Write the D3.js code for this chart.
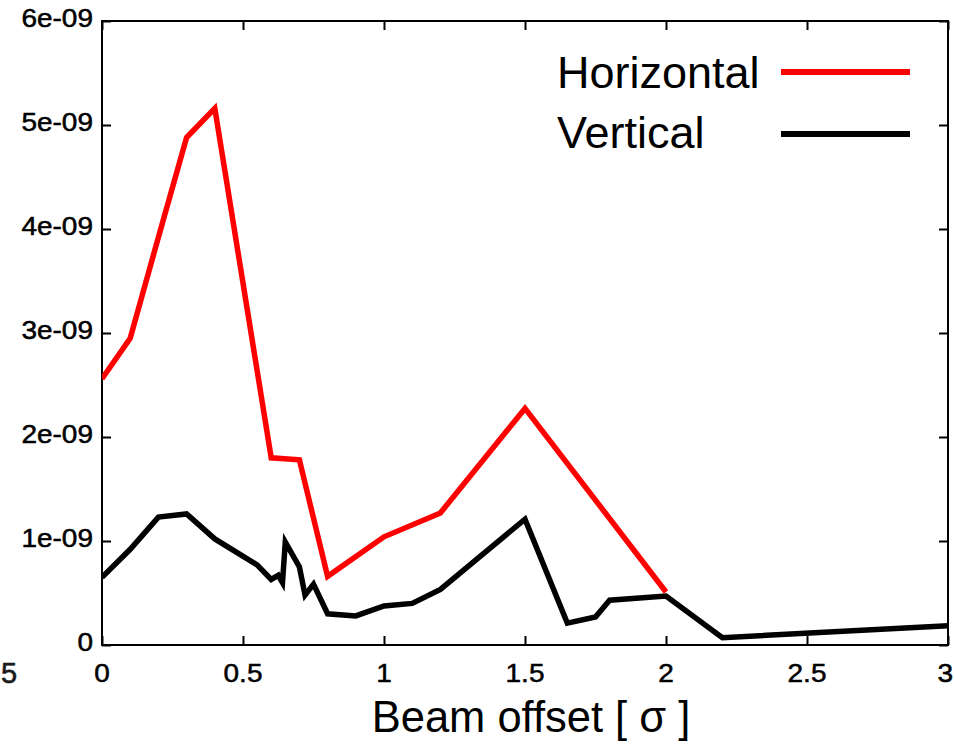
<!DOCTYPE html>
<html>
<head>
<meta charset="utf-8">
<script src="https://cdn.jsdelivr.net/npm/d3@7"></script>
<style>
  html, body { margin: 0; padding: 0; background: #fff; }
  svg { display: block; }
  text { font-family: "Liberation Sans", Arial, Helvetica, sans-serif; fill: #000; }
</style>
</head>
<body>
<svg id="chart" width="954" height="745"></svg>
<script>
// ---- data ----
const horizX = [0, 0.1, 0.2, 0.3, 0.4, 0.6, 0.7, 0.8, 1.0, 1.2, 1.5, 2.0];
const horizY = [2.56e-9, 2.95e-9, 3.92e-9, 4.88e-9, 5.16e-9, 1.80e-9, 1.78e-9, 0.66e-9, 1.04e-9, 1.27e-9, 2.275e-9, 0.51e-9];

const vertX = [0, 0.1, 0.2, 0.3, 0.4, 0.55, 0.6, 0.625, 0.64, 0.65, 0.7, 0.72, 0.75, 0.8, 0.9, 1.0, 1.1, 1.2, 1.5, 1.65, 1.75, 1.8, 2.0, 2.2, 3.0];
const vertY = [0.65e-9, 0.92e-9, 1.23e-9, 1.26e-9, 1.02e-9, 0.77e-9, 0.63e-9, 0.67e-9, 0.60e-9, 0.99e-9, 0.75e-9, 0.48e-9, 0.585e-9, 0.30e-9, 0.28e-9, 0.375e-9, 0.40e-9, 0.535e-9, 1.21e-9, 0.21e-9, 0.27e-9, 0.43e-9, 0.47e-9, 0.07e-9, 0.185e-9];

const xTicks = [0, 0.5, 1, 1.5, 2, 2.5, 3];
const xTickLabels = ["0", "0.5", "1", "1.5", "2", "2.5", "3"];
const yTicks = [0, 1e-9, 2e-9, 3e-9, 4e-9, 5e-9, 6e-9];
const yTickLabels = ["0", "1e-09", "2e-09", "3e-09", "4e-09", "5e-09", "6e-09"];

const seriesNames = ["Horizontal", "Vertical"];
const seriesColors = ["#ff0000", "#000000"];
const xTitle = "Beam offset [ \u03c3 ]";

// ---- layout ----
const plotL = 102, plotR = 948, plotT = 21, plotB = 645;
const svg = d3.select("#chart");
const x = d3.scaleLinear().domain([0, 3]).range([plotL, plotR]);
const y = d3.scaleLinear().domain([0, 6e-9]).range([plotB, plotT]);

const labelFont = "25px";
const stretch = 1.12;

// frame
svg.append("rect")
  .attr("x", plotL).attr("y", plotT)
  .attr("width", plotR - plotL).attr("height", plotB - plotT)
  .attr("fill", "none").attr("stroke", "#000").attr("stroke-width", 2);

// axes with inward ticks (mirrored)
const tickLen = 9;
const gB = svg.append("g").attr("transform", `translate(0,${plotB})`)
  .call(d3.axisBottom(x).tickValues(xTicks).tickSize(-tickLen).tickFormat(""));
const gT = svg.append("g").attr("transform", `translate(0,${plotT})`)
  .call(d3.axisTop(x).tickValues(xTicks).tickSize(-tickLen).tickFormat(""));
const gL = svg.append("g").attr("transform", `translate(${plotL},0)`)
  .call(d3.axisLeft(y).tickValues(yTicks).tickSize(-tickLen).tickFormat(""));
const gR = svg.append("g").attr("transform", `translate(${plotR},0)`)
  .call(d3.axisRight(y).tickValues(yTicks).tickSize(-tickLen).tickFormat(""));
[gB, gT, gL, gR].forEach(g => {
  g.select(".domain").remove();
  g.selectAll(".tick line").attr("stroke", "#000").attr("stroke-width", 2);
});

// x tick labels (last one kept inside the page edge)
svg.append("g").selectAll("text").data(xTicks).join("text")
  .attr("transform", (d, i) => i === xTicks.length - 1
      ? `translate(953,682) scale(${stretch},1)`
      : `translate(${x(d)},682) scale(${stretch},1)`)
  .attr("text-anchor", (d, i) => i === xTicks.length - 1 ? "end" : "middle")
  .style("font-size", labelFont)
  .style("stroke", "#000").style("stroke-width", 0.5)
  .text((d, i) => xTickLabels[i]);

// y tick labels
svg.append("g").selectAll("text").data(yTicks).join("text")
  .attr("transform", d => `translate(93,${y(d) + 6}) scale(${stretch},1)`)
  .attr("text-anchor", "end")
  .style("font-size", labelFont)
  .style("stroke", "#000").style("stroke-width", 0.5)
  .text((d, i) => yTickLabels[i]);

// stray glyph at the left edge (from neighbouring figure)
svg.append("text")
  .attr("x", 9).attr("y", 683)
  .attr("text-anchor", "middle")
  .style("font-size", "29px")
  .style("fill", "#1a1a1a")
  .style("stroke", "#1a1a1a").style("stroke-width", 0.6)
  .text("5");

// x axis title
svg.append("text")
  .attr("x", 531).attr("y", 732)
  .attr("text-anchor", "middle")
  .style("font-size", "43.5px")
  .text(xTitle);

// lines
const line = d3.line().x(d => x(d[0])).y(d => y(d[1]));
const series = [
  horizX.map((v, i) => [v, horizY[i]]),
  vertX.map((v, i) => [v, vertY[i]])
];
svg.append("defs").append("clipPath").attr("id", "clip")
  .append("rect").attr("x", plotL).attr("y", plotT).attr("width", plotR - plotL).attr("height", plotB - plotT);
svg.append("g").attr("clip-path", "url(#clip)")
  .selectAll("path").data(series).join("path")
  .attr("d", line)
  .attr("fill", "none")
  .attr("stroke", (d, i) => seriesColors[i])
  .attr("stroke-width", 5.5)
  .attr("stroke-linejoin", "miter");

// legend
const legendRows = [ {ty: 88, ly: 72}, {ty: 148, ly: 134} ];
seriesNames.forEach((name, i) => {
  svg.append("text")
    .attr("x", 557).attr("y", legendRows[i].ty)
    .style("font-size", "45px")
    .text(name);
  svg.append("line")
    .attr("x1", 781).attr("x2", 910)
    .attr("y1", legendRows[i].ly).attr("y2", legendRows[i].ly)
    .attr("stroke", seriesColors[i]).attr("stroke-width", 6);
});
</script>
</body>
</html>
